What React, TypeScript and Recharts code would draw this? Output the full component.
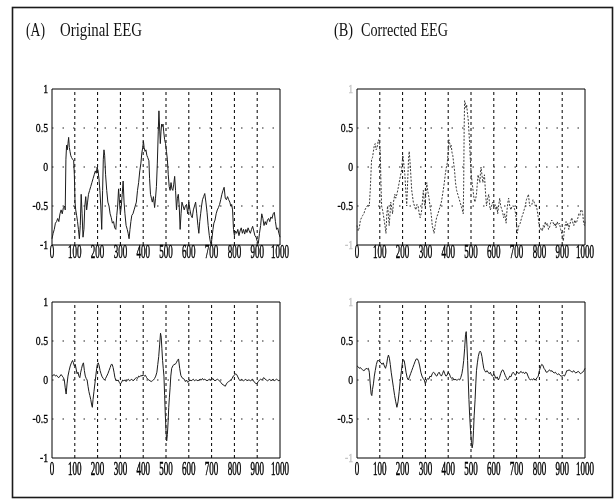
import { LineChart, Line, XAxis, YAxis, ReferenceLine, ReferenceArea } from 'recharts'

type Pt = [number, number]

const X_TICKS = [0, 100, 200, 300, 400, 500, 600, 700, 800, 900, 1000]
const Y_TICKS = [-1, -0.5, 0, 0.5, 1]
const Y_GRID = [-0.5, 0, 0.5]
const TITLES = { a: ['(A)', 'Original EEG'], b: ['(B)', 'Corrected EEG'] }

// (A) top — original EEG, [sample, amplitude]
const ORIG_EEG: Pt[] = [
  [0, -0.92], [5, -0.85], [10, -0.8], [15, -0.72], [20, -0.7], [25, -0.66], [30, -0.7], [35, -0.6], [40, -0.55],
  [45, -0.6], [50, -0.52], [55, -0.5], [58, -0.55], [61, 0.1], [64, 0.28], [67, 0.22], [70, 0.3], [73, 0.38],
  [76, 0.25], [79, 0.2], [82, 0.15], [86, 0.12], [90, 0.1], [95, 0.08], [98, -0.1], [101, -0.45], [104, -0.55],
  [108, -0.62], [112, -0.7], [116, -0.8], [120, -0.92], [124, -0.75], [128, -0.35], [132, -0.6], [136, -0.9],
  [140, -0.8], [144, -0.5], [148, -0.38], [152, -0.55], [156, -0.45], [160, -0.35], [165, -0.3], [170, -0.25],
  [175, -0.2], [180, -0.15], [185, -0.1], [190, -0.05], [194, -0.08], [198, 0.0], [202, -0.05], [206, -0.15],
  [210, -0.3], [214, -0.5], [218, -0.8], [222, -0.3], [225, 0.1], [228, 0.22], [231, 0.15], [235, -0.1],
  [240, -0.3], [245, -0.45], [250, -0.5], [255, -0.6], [260, -0.65], [265, -0.72], [270, -0.7], [275, -0.78],
  [280, -0.8], [284, -0.62], [288, -0.5], [292, -0.28], [296, -0.45], [300, -0.6], [304, -0.5], [308, -0.35],
  [312, -0.18], [316, -0.45], [320, -0.6], [325, -0.75], [330, -0.8], [334, -0.85], [338, -0.92], [342, -0.8],
  [346, -0.7], [350, -0.62], [355, -0.6], [360, -0.55], [365, -0.5], [370, -0.45], [375, -0.3], [380, -0.2],
  [385, -0.05], [390, 0.05], [394, 0.18], [398, 0.25], [401, 0.33], [404, 0.25], [408, 0.2], [412, 0.22],
  [416, 0.15], [420, 0.12], [425, 0.08], [428, -0.15], [432, -0.35], [436, -0.4], [440, -0.45], [445, -0.38],
  [450, -0.52], [454, -0.4], [458, -0.25], [462, 0.05], [466, 0.45], [469, 0.72], [472, 0.5], [475, 0.3],
  [478, 0.45], [481, 0.55], [484, 0.52], [487, 0.55], [490, 0.45], [494, 0.35], [498, 0.3], [502, 0.2],
  [506, 0.1], [510, -0.1], [514, -0.25], [518, -0.3], [522, -0.2], [526, -0.28], [530, -0.3], [534, -0.22],
  [538, -0.12], [542, -0.3], [546, -0.55], [550, -0.4], [554, -0.35], [558, -0.5], [562, -0.8], [566, -0.6],
  [570, -0.45], [575, -0.5], [580, -0.55], [585, -0.5], [590, -0.48], [595, -0.6], [600, -0.45], [605, -0.55],
  [610, -0.62], [615, -0.65], [620, -0.55], [625, -0.5], [630, -0.45], [635, -0.6], [640, -0.75], [644, -0.85],
  [648, -0.7], [652, -0.6], [656, -0.5], [660, -0.42], [665, -0.38], [670, -0.34], [675, -0.45], [680, -0.58],
  [685, -0.75], [690, -0.88], [694, -0.95], [698, -1.0], [702, -0.9], [706, -0.8], [710, -0.72], [715, -0.68],
  [720, -0.6], [725, -0.55], [730, -0.52], [735, -0.48], [740, -0.42], [745, -0.35], [750, -0.3], [755, -0.26],
  [760, -0.4], [765, -0.42], [770, -0.38], [775, -0.42], [780, -0.45], [784, -0.5], [788, -0.48], [792, -0.55],
  [796, -0.8], [800, -0.88], [805, -0.82], [810, -0.85], [815, -0.8], [820, -0.88], [825, -0.82], [830, -0.78],
  [835, -0.85], [840, -0.8], [845, -0.86], [850, -0.8], [855, -0.84], [860, -0.78], [865, -0.82], [870, -0.85],
  [875, -0.8], [880, -0.76], [885, -0.82], [890, -0.88], [895, -0.9], [900, -0.95], [905, -0.98], [910, -0.85],
  [915, -0.75], [920, -0.6], [925, -0.66], [930, -0.75], [935, -0.7], [940, -0.74], [945, -0.68], [950, -0.66],
  [955, -0.7], [960, -0.64], [965, -0.66], [970, -0.6], [975, -0.58], [980, -0.7], [985, -0.8], [990, -0.78],
  [995, -0.85], [1000, -0.9],
]

// (B) top — corrected EEG
const CORR_EEG: Pt[] = [
  [0, -0.75], [5, -0.82], [10, -0.78], [15, -0.68], [20, -0.65], [25, -0.62], [30, -0.6], [35, -0.55], [40, -0.52],
  [45, -0.5], [50, -0.48], [54, -0.5], [58, -0.3], [61, -0.1], [64, 0.1], [68, 0.12], [72, 0.2], [76, 0.28],
  [80, 0.3], [84, 0.22], [88, 0.25], [92, 0.32], [95, 0.35], [99, 0.28], [102, 0.2], [105, -0.2], [108, -0.5],
  [112, -0.55], [116, -0.62], [120, -0.7], [124, -0.78], [127, -0.85], [130, -0.65], [134, -0.5], [138, -0.62],
  [141, -0.75], [145, -0.6], [148, -0.45], [152, -0.52], [156, -0.6], [160, -0.45], [166, -0.35], [170, -0.4],
  [175, -0.35], [180, -0.28], [185, -0.2], [190, -0.12], [195, -0.05], [198, 0.05], [201, 0.15], [205, 0.05],
  [210, -0.1], [214, -0.3], [218, -0.5], [222, -0.2], [226, 0.1], [229, 0.2], [233, 0.05], [236, -0.1],
  [240, -0.3], [247, -0.45], [252, -0.5], [258, -0.55], [263, -0.48], [268, -0.5], [273, -0.6], [277, -0.65],
  [281, -0.6], [284, -0.55], [288, -0.4], [291, -0.3], [295, -0.45], [298, -0.5], [302, -0.35], [306, -0.2],
  [310, -0.3], [316, -0.4], [320, -0.5], [323, -0.55], [327, -0.65], [330, -0.75], [334, -0.8], [338, -0.85],
  [343, -0.75], [349, -0.65], [355, -0.6], [360, -0.55], [365, -0.5], [370, -0.45], [374, -0.38], [378, -0.3],
  [383, -0.2], [387, -0.1], [392, 0.0], [396, 0.05], [400, 0.2], [403, 0.35], [407, 0.3], [410, 0.25],
  [413, 0.28], [417, 0.18], [420, 0.15], [424, 0.05], [428, -0.05], [432, -0.2], [437, -0.3], [442, -0.35],
  [447, -0.4], [452, -0.45], [457, -0.5], [462, -0.55], [466, -0.6], [468, -0.2], [470, 0.5], [472, 0.85],
  [475, 0.82], [478, 0.75], [481, 0.8], [484, 0.7], [488, 0.6], [491, 0.45], [494, 0.3], [497, 0.1],
  [501, -0.1], [505, -0.2], [509, -0.3], [513, -0.4], [517, -0.45], [521, -0.4], [524, -0.35], [528, -0.2],
  [531, -0.1], [535, -0.15], [539, -0.2], [542, -0.05], [544, 0.0], [548, -0.1], [552, -0.2], [555, -0.15],
  [559, -0.1], [563, -0.3], [568, -0.5], [573, -0.4], [578, -0.35], [582, -0.5], [585, -0.55], [590, -0.5],
  [595, -0.45], [600, -0.5], [605, -0.48], [610, -0.55], [614, -0.5], [617, -0.6], [621, -0.5], [626, -0.4],
  [630, -0.5], [636, -0.55], [640, -0.6], [643, -0.65], [648, -0.6], [654, -0.72], [658, -0.55], [662, -0.45],
  [665, -0.4], [670, -0.5], [675, -0.55], [680, -0.5], [687, -0.5], [692, -0.55], [696, -0.6], [699, -0.7],
  [703, -0.85], [706, -0.8], [710, -0.75], [716, -0.72], [722, -0.65], [728, -0.6], [733, -0.55], [738, -0.5],
  [743, -0.42], [748, -0.38], [752, -0.35], [757, -0.5], [762, -0.5], [767, -0.48], [772, -0.42], [777, -0.45],
  [782, -0.5], [786, -0.48], [790, -0.55], [795, -0.65], [799, -0.75], [803, -0.8], [808, -0.78], [813, -0.82],
  [817, -0.75], [821, -0.78], [826, -0.7], [830, -0.75], [835, -0.72], [840, -0.8], [844, -0.78], [849, -0.72],
  [854, -0.68], [859, -0.7], [864, -0.75], [869, -0.72], [873, -0.78], [878, -0.7], [883, -0.74], [888, -0.72],
  [893, -0.8], [898, -0.85], [902, -0.9], [905, -0.95], [909, -0.82], [913, -0.75], [917, -0.7], [921, -0.76],
  [925, -0.72], [929, -0.8], [933, -0.74], [937, -0.7], [942, -0.65], [947, -0.72], [951, -0.75], [955, -0.68],
  [960, -0.72], [964, -0.7], [969, -0.65], [973, -0.6], [978, -0.62], [982, -0.55], [986, -0.55], [990, -0.6],
  [994, -0.72], [998, -0.75], [1000, -0.7],
]

// (A) bottom — original, eye-movement component
const ORIG_EOG: Pt[] = [
  [0, 0.05], [5, 0.06], [10, 0.07], [15, 0.05], [20, 0.06], [25, 0.04], [30, 0.03], [35, 0.05], [40, 0.07],
  [45, 0.05], [50, 0.03], [54, 0.0], [58, -0.1], [62, -0.18], [66, -0.05], [70, 0.05], [75, 0.12], [80, 0.18],
  [85, 0.22], [90, 0.25], [94, 0.22], [98, 0.18], [102, 0.2], [106, 0.14], [110, 0.08], [114, 0.1], [118, 0.05],
  [122, 0.03], [126, 0.1], [130, 0.15], [134, 0.2], [138, 0.22], [142, 0.12], [146, 0.05], [150, 0.02],
  [154, 0.0], [158, -0.08], [162, -0.15], [166, -0.2], [170, -0.25], [174, -0.32], [177, -0.35], [180, -0.25],
  [184, -0.15], [188, -0.05], [192, 0.05], [196, 0.15], [199, 0.2], [203, 0.22], [207, 0.18], [211, 0.12],
  [215, 0.08], [220, 0.04], [225, 0.02], [230, 0.0], [235, 0.02], [240, 0.05], [245, 0.08], [250, 0.12],
  [255, 0.16], [260, 0.2], [264, 0.2], [268, 0.16], [272, 0.1], [276, 0.03], [280, 0.0], [285, -0.01],
  [290, 0.0], [295, -0.03], [300, -0.05], [305, -0.03], [310, 0.0], [315, -0.01], [320, 0.0], [325, -0.02],
  [330, 0.0], [335, 0.01], [340, -0.01], [345, 0.0], [350, 0.01], [355, -0.01], [360, 0.0], [365, 0.02],
  [370, 0.03], [375, 0.02], [380, 0.05], [385, 0.04], [390, 0.06], [395, 0.05], [400, 0.07], [405, 0.05],
  [410, 0.06], [415, 0.03], [420, 0.01], [425, 0.0], [430, -0.01], [435, -0.02], [440, -0.01], [445, 0.0],
  [450, 0.02], [455, 0.05], [460, 0.1], [464, 0.2], [468, 0.3], [472, 0.45], [476, 0.6], [479, 0.55],
  [482, 0.4], [485, 0.25], [488, 0.15], [491, 0.05], [494, -0.2], [497, -0.45], [500, -0.65], [503, -0.78],
  [506, -0.7], [509, -0.55], [512, -0.35], [515, -0.22], [518, -0.1], [521, 0.05], [525, 0.15], [530, 0.18],
  [535, 0.2], [540, 0.2], [545, 0.22], [550, 0.25], [555, 0.27], [560, 0.15], [565, 0.06], [570, 0.03],
  [575, 0.02], [580, 0.01], [585, -0.02], [590, 0.0], [595, -0.03], [600, -0.02], [605, 0.0], [610, -0.01],
  [615, 0.0], [620, 0.01], [625, -0.01], [630, 0.0], [635, 0.0], [640, -0.01], [645, 0.0], [650, 0.01],
  [655, 0.0], [660, 0.02], [665, 0.0], [670, 0.01], [675, 0.0], [680, -0.01], [685, 0.0], [690, 0.01],
  [695, 0.0], [700, 0.0], [705, 0.02], [710, 0.0], [715, -0.01], [720, 0.0], [725, 0.01], [730, 0.0],
  [735, -0.01], [740, -0.03], [745, -0.05], [750, -0.06], [755, -0.07], [760, -0.08], [765, -0.05],
  [770, -0.03], [775, -0.02], [780, -0.01], [785, 0.0], [790, 0.02], [795, 0.05], [800, 0.06], [805, 0.08],
  [810, 0.07], [815, 0.04], [820, 0.01], [825, -0.01], [830, 0.01], [835, 0.0], [840, -0.01], [845, 0.0],
  [850, 0.01], [855, -0.01], [860, 0.0], [865, 0.0], [870, -0.01], [875, 0.0], [880, 0.01], [885, -0.02],
  [890, -0.03], [895, -0.05], [900, -0.04], [905, -0.02], [910, 0.0], [915, 0.01], [920, 0.0], [925, 0.02],
  [930, 0.03], [935, 0.01], [940, 0.0], [945, -0.01], [950, 0.0], [955, 0.01], [960, -0.01], [965, 0.0],
  [970, 0.01], [975, -0.01], [980, 0.0], [985, 0.01], [990, 0.0], [995, -0.01], [1000, 0.0],
]

// (B) bottom — corrected
const CORR_EOG: Pt[] = [
  [0, 0.18], [5, 0.17], [10, 0.15], [15, 0.16], [20, 0.14], [25, 0.13], [30, 0.12], [35, 0.13], [40, 0.15],
  [45, 0.14], [50, 0.15], [54, 0.1], [58, -0.05], [62, -0.18], [65, -0.2], [68, -0.12], [72, -0.05], [76, 0.05],
  [80, 0.12], [85, 0.2], [90, 0.25], [95, 0.25], [100, 0.23], [105, 0.22], [110, 0.2], [115, 0.22], [120, 0.18],
  [125, 0.15], [130, 0.2], [134, 0.28], [138, 0.32], [142, 0.28], [146, 0.2], [150, 0.1], [155, 0.0],
  [160, -0.1], [165, -0.2], [170, -0.28], [175, -0.35], [180, -0.28], [185, -0.15], [190, 0.0], [195, 0.12],
  [199, 0.22], [203, 0.26], [207, 0.25], [211, 0.18], [215, 0.1], [220, 0.03], [225, 0.0], [230, 0.04],
  [235, 0.08], [240, 0.12], [245, 0.16], [250, 0.2], [255, 0.24], [260, 0.27], [265, 0.27], [270, 0.24],
  [275, 0.18], [280, 0.1], [285, 0.05], [290, 0.02], [295, 0.0], [300, -0.05], [305, 0.0], [310, 0.02],
  [315, 0.01], [320, 0.05], [325, 0.04], [330, 0.08], [335, 0.1], [340, 0.09], [345, 0.06], [350, 0.05],
  [355, 0.08], [360, 0.1], [365, 0.07], [370, 0.05], [375, 0.08], [380, 0.12], [385, 0.08], [390, 0.05],
  [395, 0.06], [400, 0.1], [405, 0.08], [410, 0.04], [415, 0.02], [420, 0.03], [425, 0.0], [430, 0.01],
  [435, 0.0], [440, 0.0], [445, 0.01], [450, 0.0], [455, 0.03], [460, 0.08], [464, 0.15], [468, 0.25],
  [472, 0.4], [476, 0.58], [479, 0.62], [482, 0.45], [485, 0.25], [488, 0.0], [491, -0.25], [494, -0.45],
  [498, -0.65], [502, -0.8], [505, -0.87], [508, -0.82], [511, -0.65], [514, -0.45], [518, -0.25], [521, -0.05],
  [524, 0.12], [528, 0.22], [532, 0.3], [536, 0.35], [540, 0.37], [544, 0.35], [548, 0.3], [552, 0.22],
  [556, 0.15], [560, 0.12], [565, 0.1], [570, 0.12], [575, 0.1], [580, 0.08], [585, 0.1], [590, 0.06],
  [595, 0.05], [600, 0.08], [605, 0.05], [610, 0.02], [615, 0.04], [620, 0.0], [625, 0.03], [630, 0.08],
  [635, 0.12], [640, 0.13], [645, 0.1], [650, 0.06], [655, 0.03], [660, 0.0], [665, 0.02], [670, 0.05],
  [675, 0.04], [680, 0.08], [685, 0.1], [690, 0.08], [695, 0.06], [700, 0.09], [705, 0.1], [710, 0.08],
  [715, 0.1], [720, 0.11], [725, 0.09], [730, 0.1], [735, 0.08], [740, 0.1], [745, 0.09], [750, 0.05],
  [755, 0.02], [760, 0.0], [765, 0.01], [770, 0.0], [775, 0.02], [780, 0.0], [785, 0.01], [790, 0.03],
  [795, 0.05], [800, 0.12], [805, 0.17], [810, 0.2], [815, 0.19], [820, 0.15], [825, 0.13], [830, 0.1],
  [835, 0.1], [840, 0.12], [845, 0.13], [850, 0.11], [855, 0.12], [860, 0.1], [865, 0.09], [870, 0.1],
  [875, 0.08], [880, 0.07], [885, 0.08], [890, 0.06], [895, 0.05], [900, 0.05], [905, 0.06], [910, 0.05],
  [915, 0.08], [920, 0.12], [925, 0.12], [930, 0.13], [935, 0.12], [940, 0.11], [945, 0.1], [950, 0.12],
  [955, 0.1], [960, 0.09], [965, 0.1], [970, 0.11], [975, 0.1], [980, 0.08], [985, 0.09], [990, 0.1],
  [995, 0.12], [1000, 0.15],
]

const FONT = '"Liberation Serif", "Times New Roman", serif'

// scanned MATLAB labels are very narrow, so the glyphs get squeezed
function XTick(props: any, gap: number) {
  const { x, y, payload } = props
  return (
    <g transform={`translate(${x},${y + gap}) scale(0.5,1)`}>
      <text textAnchor="middle" fontSize={18} fontFamily={FONT} fill="#000" stroke="#000" strokeWidth={0.5}>
        {payload.value}
      </text>
    </g>
  )
}

function YTick(props: any, faintEnds: boolean) {
  const { x, y, payload } = props
  const end = Math.abs(payload.value) === 1
  const c = faintEnds && end ? '#c4c4c4' : '#000'
  return (
    <g transform={`translate(${x - 4},${y + 4}) scale(0.78,1)`}>
      <text textAnchor="end" fontSize={12.5} fontFamily={FONT} fill={c} stroke={c} strokeWidth={0.3}>
        {String(payload.value)}
      </text>
    </g>
  )
}

interface PanelProps {
  series: Pt[]
  left: number
  top: number
  gap: number
  dash?: string
  color: string
  faintEnds?: boolean
}

function Panel({ series, left, top, gap, dash, color, faintEnds = false }: PanelProps) {
  const data = series.map(([t, v]) => ({ t, v }))
  return (
    <div style={{ position: 'absolute', left, top }}>
      <LineChart width={300} height={190} data={data} margin={{ top: 10, right: 20, bottom: 0, left: 12 }}>
        <XAxis type="number" dataKey="t" domain={[0, 1000]} ticks={X_TICKS} interval={0}
          axisLine={false} tickLine={false} tickSize={0} tickMargin={0} height={24}
          tick={(p: any) => XTick(p, gap)} />
        <YAxis type="number" domain={[-1, 1]} ticks={Y_TICKS} interval={0} allowDataOverflow
          axisLine={false} tickLine={false} tickSize={0} tickMargin={0} width={40}
          tick={(p: any) => YTick(p, faintEnds)} />
        {X_TICKS.slice(1, -1).map((v) => (
          <ReferenceLine key={`gx${v}`} x={v} stroke="#000" strokeWidth={1} strokeDasharray="3 3" />
        ))}
        {Y_GRID.map((v) => (
          <ReferenceLine key={`gy${v}`} y={v} stroke="#222" strokeWidth={1} strokeDasharray="1.5 9" />
        ))}
        <Line type="linear" dataKey="v" stroke={color} strokeWidth={1} strokeDasharray={dash}
          dot={false} isAnimationActive={false} />
        <ReferenceArea x1={0} x2={1000} y1={-1} y2={1} fill="none" stroke="#000" strokeWidth={1} />
      </LineChart>
    </div>
  )
}

export default function App() {
  // grayscale filter: the scan is monochrome, and it also kills colour fringes on the squeezed text
  return (
    <div style={{ position: 'absolute', left: 0, top: 0, width: 616, height: 504, background: '#fff', overflow: 'hidden', filter: 'grayscale(1)' }}>
      <svg width={616} height={504} style={{ position: 'absolute', left: 0, top: 0 }}>
        <rect x={12.5} y={7.5} width={600} height={490} fill="none" stroke="#1a1a1a" strokeWidth={1.6} />
        <g fontSize={19} fontFamily={FONT} fill="#111">
          <text x={26} y={36} textLength={19} lengthAdjust="spacingAndGlyphs">{TITLES.a[0]}</text>
          <text x={60} y={36} textLength={82} lengthAdjust="spacingAndGlyphs">{TITLES.a[1]}</text>
          <text x={334} y={36} textLength={19} lengthAdjust="spacingAndGlyphs">{TITLES.b[0]}</text>
          <text x={361} y={36} textLength={87} lengthAdjust="spacingAndGlyphs">{TITLES.b[1]}</text>
        </g>
      </svg>
      <Panel series={ORIG_EEG} left={0} top={79} gap={13} color="#1c1c1c" />
      <Panel series={CORR_EEG} left={305} top={79} gap={13} color="#3a3a3a" dash="2 1.5" faintEnds />
      <Panel series={ORIG_EOG} left={0} top={292} gap={17} color="#1c1c1c" />
      <Panel series={CORR_EOG} left={305} top={292} gap={17} color="#1c1c1c" faintEnds />
    </div>
  )
}
